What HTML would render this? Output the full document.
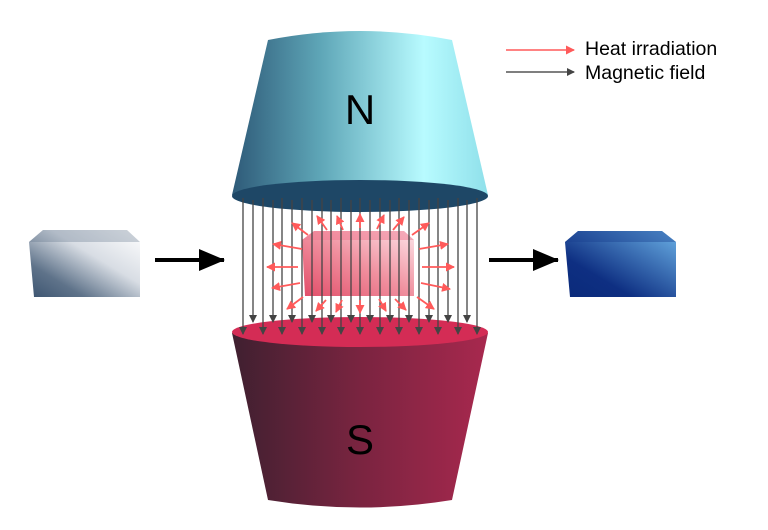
<!DOCTYPE html>
<html><head><meta charset="utf-8"><style>html,body{margin:0;padding:0;background:#fff}svg{display:block}</style></head>
<body>
<svg width="768" height="530" viewBox="0 0 768 530" xmlns="http://www.w3.org/2000/svg" font-family="Liberation Sans, sans-serif">
<defs>
<linearGradient id="gN" x1="0" x2="1" y1="0" y2="0">
<stop offset="0" stop-color="#2e5a78"/><stop offset="0.35" stop-color="#5fa7b8"/><stop offset="0.75" stop-color="#b8fbff"/><stop offset="1" stop-color="#8fe0ea"/></linearGradient>
<linearGradient id="gS" x1="0" x2="1"><stop offset="0" stop-color="#3f2030"/><stop offset="0.5" stop-color="#7a2440"/><stop offset="1" stop-color="#a8284e"/></linearGradient>
<linearGradient id="gL" x1="0" y1="1" x2="1" y2="0"><stop offset="0" stop-color="#3c5470"/><stop offset="0.25" stop-color="#5f738a"/><stop offset="0.6" stop-color="#d8dde4"/><stop offset="1" stop-color="#fff"/></linearGradient>
<linearGradient id="gR" x1="0" y1="1" x2="1" y2="0"><stop offset="0" stop-color="#0a2a7a"/><stop offset="0.3" stop-color="#0e2f82"/><stop offset="1" stop-color="#6ab0e6"/></linearGradient>
<linearGradient id="gM" x1="0" y1="1" x2="1" y2="0"><stop offset="0" stop-color="#e24d68"/><stop offset="0.5" stop-color="#f0909f"/><stop offset="1" stop-color="#fde3e8"/></linearGradient>
<marker id="ak" markerWidth="8" markerHeight="8" refX="7" refY="4" orient="auto" markerUnits="userSpaceOnUse"><path d="M0,0 L8,4 L0,8 z" fill="#444"/></marker>
<marker id="ar" markerWidth="9" markerHeight="9" refX="8" refY="4.5" orient="auto" markerUnits="userSpaceOnUse"><path d="M0,0 L9,4.5 L0,9 z" fill="#ff5a5a"/></marker>
<marker id="ab" markerWidth="26" markerHeight="22" refX="25" refY="11" orient="auto" markerUnits="userSpaceOnUse"><path d="M0,0 L26,11 L0,22 z" fill="#000"/></marker>
</defs>
<path d="M268,40 Q360,22 452,40 L488,195 L232,195 Z" fill="url(#gN)"/>
<ellipse cx="360" cy="196" rx="128" ry="16" fill="#1e4766"/>
<text x="360" y="124" font-size="42" text-anchor="middle" fill="#000">N</text>
<path d="M232,333 L488,333 L452,500 Q360,515 268,500 Z" fill="url(#gS)"/>
<ellipse cx="360" cy="332" rx="128" ry="15" fill="#d42c55"/>
<text x="360" y="454" font-size="42" text-anchor="middle" fill="#000">S</text>
<path d="M302,240 L314,231 L404,231 L414,240 L414,296 L305,296 Z" fill="url(#gM)"/>
<path d="M302,240 L314,231 L404,231 L414,240 Z" fill="#f07890" opacity="0.5"/>
<g stroke="#444" stroke-width="1.3" marker-end="url(#ak)">
<line x1="243" y1="198" x2="243" y2="334"/><line x1="253" y1="200" x2="253" y2="322"/>
<line x1="263" y1="198" x2="263" y2="334"/><line x1="273" y1="200" x2="273" y2="322"/>
<line x1="282" y1="198" x2="282" y2="334"/><line x1="292" y1="200" x2="292" y2="322"/>
<line x1="302" y1="198" x2="302" y2="334"/><line x1="312" y1="200" x2="312" y2="322"/>
<line x1="322" y1="198" x2="322" y2="334"/><line x1="331" y1="200" x2="331" y2="322"/>
<line x1="341" y1="198" x2="341" y2="334"/><line x1="351" y1="200" x2="351" y2="322"/>
<line x1="360" y1="198" x2="360" y2="334"/><line x1="370" y1="200" x2="370" y2="322"/>
<line x1="380" y1="198" x2="380" y2="334"/><line x1="390" y1="200" x2="390" y2="322"/>
<line x1="399" y1="198" x2="399" y2="334"/><line x1="409" y1="200" x2="409" y2="322"/>
<line x1="419" y1="198" x2="419" y2="334"/><line x1="429" y1="200" x2="429" y2="322"/>
<line x1="438" y1="198" x2="438" y2="334"/><line x1="448" y1="200" x2="448" y2="322"/>
<line x1="458" y1="198" x2="458" y2="334"/><line x1="467" y1="200" x2="467" y2="322"/>
<line x1="477" y1="198" x2="477" y2="334"/>
</g>
<g stroke="#ff5a5a" stroke-width="1.8" marker-end="url(#ar)">
<line x1="308" y1="235" x2="292" y2="223"/><line x1="327" y1="230" x2="317" y2="216"/>
<line x1="343" y1="230" x2="337" y2="216"/><line x1="360" y1="228" x2="360" y2="214"/>
<line x1="377" y1="229" x2="384" y2="215"/><line x1="393" y1="230" x2="404" y2="217"/>
<line x1="412" y1="235" x2="429" y2="223"/>
<line x1="302" y1="249" x2="273" y2="244"/><line x1="298" y1="267" x2="267" y2="267"/>
<line x1="300" y1="283" x2="272" y2="288"/>
<line x1="419" y1="249" x2="448" y2="244"/><line x1="422" y1="267" x2="454" y2="267"/>
<line x1="421" y1="283" x2="450" y2="289"/>
<line x1="303" y1="297" x2="287" y2="309"/><line x1="326" y1="300" x2="316" y2="311"/>
<line x1="342" y1="300" x2="336" y2="312"/><line x1="360" y1="300" x2="360" y2="313"/>
<line x1="379" y1="299" x2="386" y2="311"/><line x1="395" y1="299" x2="406" y2="310"/>
<line x1="417" y1="297" x2="434" y2="309"/>
</g>
<path d="M29,242 L43,230 L127,230 L140,242 L140,297 L34,297 Z" fill="url(#gL)"/>
<path d="M29,242 L43,230 L127,230 L140,242 Z" fill="#5a6e86" opacity="0.3"/>
<path d="M565,242 L578,231 L662,231 L676,242 L676,297 L570,297 Z" fill="url(#gR)"/>
<path d="M565,242 L578,231 L662,231 L676,242 Z" fill="#1a3f8f" opacity="0.4"/>
<line x1="155" y1="260" x2="224" y2="260" stroke="#000" stroke-width="4" marker-end="url(#ab)"/>
<line x1="489" y1="260" x2="558" y2="260" stroke="#000" stroke-width="4" marker-end="url(#ab)"/>
<line x1="506" y1="50" x2="574" y2="50" stroke="#ff5a5a" stroke-width="1.5" marker-end="url(#ar)"/>
<line x1="506" y1="72" x2="574" y2="72" stroke="#555" stroke-width="1.5" marker-end="url(#ak)"/>
<text x="585" y="55" font-size="19.5" fill="#000">Heat irradiation</text>
<text x="585" y="79" font-size="19.5" fill="#000">Magnetic field</text>
</svg>
</body></html>
